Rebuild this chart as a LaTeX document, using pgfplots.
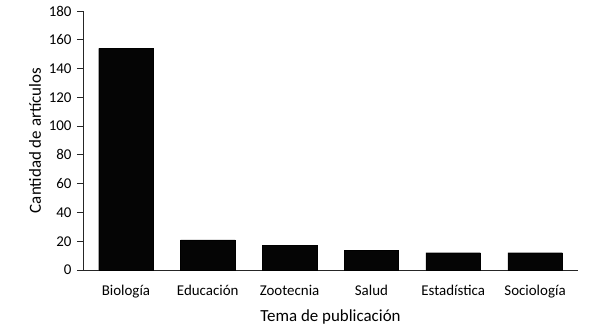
\documentclass[border=0pt]{standalone}
\usepackage{fontspec}
\setmainfont{Carlito}
\usepackage{pgfplots}
\pgfplotsset{compat=1.18}
\begin{document}
\begin{tikzpicture}
\useasboundingbox (-83bp,-61bp) rectangle (519bp,270bp);
\begin{axis}[
  scale only axis,
  width=495bp, height=259bp,
  xmin=-0.525, xmax=5.525,
  ymin=0, ymax=180,
  ytick={0,20,...,180},
  xtick={0,1,2,3,4,5},
  xticklabels={Biología,Educación,Zootecnia,Salud,Estadística,Sociología},
  x tick style={draw=none},
  extra x ticks={5.525},
  extra x tick labels={},
  extra x tick style={tick style={draw=black!85, line width=0.8pt}, major tick length=10bp, tick align=outside},
  axis x line*=bottom,
  axis y line*=left,
  axis line style={draw=black!85, line width=0.8pt, -},
  y tick style={draw=black!85, line width=0.8pt},
  tick align=outside,
  major tick length=6bp,
  ylabel={Cantidad de artículos},
  xlabel={Tema de publicación},
  label style={font=\fontsize{17}{20}\selectfont},
  tick label style={font=\fontsize{15}{18}\selectfont},
  /pgf/number format/assume math mode=true,
  ylabel style={at={(axis description cs:-0.097,0.5)}, anchor=center},
  xlabel style={at={(axis description cs:0.5,0)}, anchor=center, yshift=-47bp},
  xticklabel style={anchor=base, yshift=-19bp},
  yticklabel style={anchor=east, xshift=-2bp},
  ybar, bar width=54.5bp,
  clip=false,
]
\addplot[fill=black!98, draw=black, line width=0.4pt] coordinates {(0,154) (1,21) (2,17) (3,13.6) (4,12) (5,12)};
\end{axis}
\end{tikzpicture}
\end{document}
